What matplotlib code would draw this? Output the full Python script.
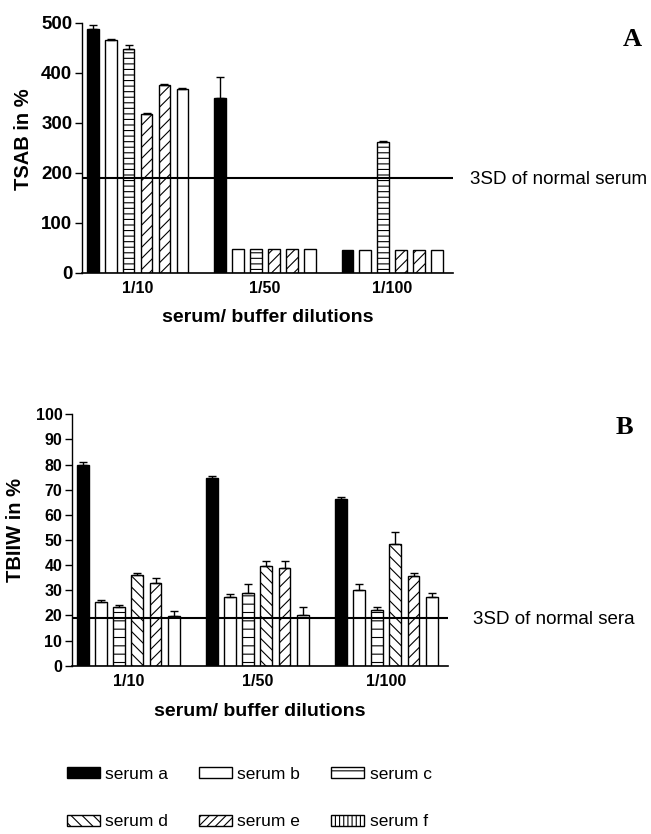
import matplotlib
matplotlib.use("Agg")
import matplotlib.pyplot as plt
from matplotlib.patches import Patch
import numpy as np

plt.rcParams['font.family'] = ['Liberation Sans', 'DejaVu Sans']
plt.rcParams['hatch.linewidth'] = 0.8

dilutions = ["1/10", "1/50", "1/100"]
sera = ["serum a", "serum b", "serum c", "serum d", "serum e", "serum f"]

# panel A: TSAB in %, rows = serum a..f, columns = dilutions
tsab = [
    [487, 350, 46],
    [465, 47, 46],
    [447, 47, 262],
    [318, 47, 46],
    [376, 47, 46],
    [367, 47, 46],
]
tsab_err = [
    [8, 41, 0],
    [3, 0, 0],
    [8, 0, 2],
    [2, 0, 0],
    [2, 0, 0],
    [2, 0, 0],
]
tsab_cutoff = 190

# panel B: TBIIW in %
tbiiw = [
    [80.0, 74.5, 66.3],
    [25.2, 27.5, 30.3],
    [23.2, 29.0, 22.3],
    [36.0, 39.5, 48.5],
    [33.0, 39.0, 35.8],
    [19.8, 20.3, 27.5],
]
tbiiw_err = [
    [1.0, 1.0, 0.8],
    [1.0, 1.0, 2.2],
    [1.0, 3.5, 0.9],
    [1.0, 2.0, 4.7],
    [2.0, 2.5, 1.2],
    [2.0, 3.0, 1.5],
]
tbiiw_cutoff = 19

fills = ["black", "white", "white", "white", "white", "white"]
hatch_a = [None, None, "---", "///", "///", None]
hatch_b = [None, None, "--", "\\\\\\", "///", None]
legend_hatch = [None, None, "--", "\\\\\\", "////", "||||"]

group_step = 7.1
bar_w = 0.65


def draw_panel(ax, values, errors, hatches, ytick_size, xlabel_pad):
    centers = np.arange(len(dilutions)) * group_step
    for i in range(len(sera)):
        xs = centers + (i - 2.5)
        ax.bar(xs, values[i], width=bar_w, color=fills[i], edgecolor="black",
               linewidth=1.0, hatch=hatches[i], zorder=2)
        err = np.array(errors[i])
        mask = err > 0
        if mask.any():
            ax.errorbar(xs[mask], np.array(values[i])[mask],
                        yerr=[np.zeros(mask.sum()), err[mask]],
                        fmt="none", ecolor="black", elinewidth=1.0,
                        capsize=3, capthick=1.0, zorder=3)
    ax.set_xticks(centers)
    ax.set_xticklabels(dilutions, fontsize=11.5, fontweight="bold")
    ax.tick_params(axis="x", length=0, pad=6)
    ax.tick_params(axis="y", labelsize=ytick_size, width=1, length=5, pad=2)
    ax.spines["top"].set_visible(False)
    ax.spines["right"].set_visible(False)
    ax.spines["left"].set_linewidth(1.0)
    ax.spines["bottom"].set_linewidth(1.2)
    ax.set_xlim(-3.1, 17.6)
    ax.set_xlabel("serum/ buffer dilutions", fontsize=14,
                  fontweight="bold", labelpad=xlabel_pad)


fig = plt.figure(figsize=(6.51, 8.34), dpi=100)

axA = fig.add_axes([0.126, 0.6727, 0.570, 0.300])
draw_panel(axA, tsab, tsab_err, hatch_a, 13.5, 9)
axA.set_ylim(0, 500)
axA.set_yticks(np.arange(0, 501, 100))
axA.set_ylabel("TSAB in %", fontsize=14.5, fontweight="bold", va="center")
axA.yaxis.set_label_coords(-0.158, 0.536)
axA.axhline(tsab_cutoff, color="black", linewidth=1.5, zorder=4)
for lab in axA.get_yticklabels():
    lab.set_fontweight("bold")
fig.text(0.722, 1 - 179 / 834, "3SD of normal serum", fontsize=13.5,
         va="center", ha="left")
fig.text(0.971, 1 - 40 / 834, "A", fontsize=19, fontweight="bold",
         family="Liberation Serif", ha="center", va="center")

axB = fig.add_axes([0.1106, 0.2018, 0.5776, 0.3014])
draw_panel(axB, tbiiw, tbiiw_err, hatch_b, 11.5, 10)
axB.set_ylim(0, 100)
axB.set_yticks(np.arange(0, 101, 10))
axB.set_ylabel("TBIIW in %", fontsize=14.5, fontweight="bold", va="center")
axB.yaxis.set_label_coords(-0.150, 0.54)
axB.axhline(tbiiw_cutoff, color="black", linewidth=1.5, zorder=4)
for lab in axB.get_yticklabels():
    lab.set_fontweight("bold")
fig.text(0.727, 1 - 619 / 834, "3SD of normal sera", fontsize=13.5,
         va="center", ha="left")
fig.text(0.959, 1 - 428 / 834, "B", fontsize=19, fontweight="bold",
         family="Liberation Serif", ha="center", va="center")

handles = [Patch(facecolor=fills[i], edgecolor="black", hatch=legend_hatch[i],
                 label=sera[i]) for i in range(len(sera))]
order = [0, 3, 1, 4, 2, 5]
fig.legend([handles[k] for k in order], [sera[k] for k in order],
           loc="center left", bbox_to_anchor=(51 / 651, 1 - 798 / 834),
           ncol=3, frameon=False, fontsize=12.5, handlelength=1.9,
           handleheight=0.6, handletextpad=0.3, columnspacing=1.8,
           labelspacing=1.9)

fig.savefig("out.png", dpi=100)
